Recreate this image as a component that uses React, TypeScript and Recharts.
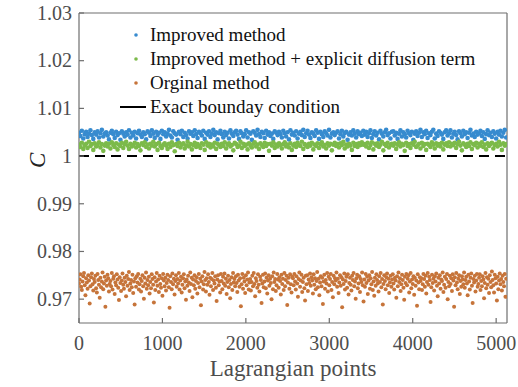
import { ScatterChart, Scatter, XAxis, YAxis, ReferenceLine, Legend } from 'recharts';

// Concentration C at each Lagrangian point (sampled along the boundary)
const improvedC = [
  1.0049, 1.0042, 1.0053, 1.0037, 1.0046, 1.0051, 1.004, 1.0047, 1.0054, 1.0044, 1.0036, 1.005, 1.0045, 1.0052, 1.0039, 1.0048, 1.0055, 1.0041, 1.0047, 1.005,
  1.0043, 1.0035, 1.0049, 1.0053, 1.0046, 1.0038, 1.0051, 1.0044, 1.0048, 1.0034, 1.0052, 1.0047, 1.0041, 1.005, 1.0045, 1.0054, 1.0039, 1.0049, 1.0043, 1.0051,
  1.0037, 1.0048, 1.0053, 1.0045, 1.004, 1.005, 1.0046, 1.0035, 1.0052, 1.0049, 1.0042, 1.0054, 1.0047, 1.0038, 1.0051, 1.0044, 1.0049, 1.0036, 1.0053, 1.0046,
  1.005, 1.0041, 1.0047, 1.0055, 1.0043, 1.0039, 1.0052, 1.0048, 1.0045, 1.0034, 1.0051, 1.0046, 1.0053, 1.004, 1.0049, 1.0044, 1.0037, 1.0052, 1.0047, 1.005,
  1.0042, 1.0054, 1.0046, 1.0038, 1.0051, 1.0048, 1.0043, 1.0053, 1.0036, 1.0049, 1.0045, 1.0052, 1.004, 1.0047, 1.0055, 1.0044, 1.005, 1.0035, 1.0048, 1.0053,
  1.0046, 1.0039, 1.0051, 1.0044, 1.0049, 1.0037, 1.0054, 1.0047, 1.0042, 1.005, 1.0053, 1.0045, 1.0036, 1.0052, 1.0048, 1.0041, 1.0046, 1.0054, 1.0039, 1.005,
  1.0047, 1.0034, 1.0052, 1.0049, 1.0043, 1.0055, 1.0046, 1.004, 1.0051, 1.0048, 1.0038, 1.0053, 1.0045, 1.005, 1.0042, 1.0047, 1.0036, 1.0052, 1.0049, 1.0044,
  1.0051, 1.0046, 1.0039, 1.0053, 1.0048, 1.0041, 1.005, 1.0035, 1.0054, 1.0045, 1.0049, 1.0043, 1.0052, 1.0037, 1.0047, 1.0051, 1.0044, 1.0055, 1.004, 1.0048,
  1.0053, 1.0045, 1.0038, 1.005, 1.0047, 1.0042, 1.0054, 1.0049, 1.0036, 1.0051, 1.0046, 1.004, 1.0052, 1.0048, 1.0043, 1.0055, 1.0039, 1.0047, 1.005, 1.0044,
  1.0049, 1.0052, 1.0037, 1.0046, 1.0053, 1.0041, 1.0048, 1.0051, 1.0034, 1.0045, 1.005, 1.0043, 1.0054, 1.0047, 1.0039, 1.0052, 1.0046, 1.0049, 1.0042, 1.0053,
  1.0045, 1.0051, 1.004, 1.0048, 1.0054, 1.0038, 1.0046, 1.0052, 1.0043, 1.0049, 1.0035, 1.0053, 1.0047, 1.0041, 1.005, 1.0055, 1.0044, 1.0048, 1.0037, 1.0051,
  1.0052, 1.0043, 1.0049, 1.0036, 1.0047, 1.0054, 1.0041, 1.005, 1.0046, 1.0039, 1.0053, 1.0048, 1.0044, 1.0051, 1.0034, 1.0047, 1.0052, 1.0042, 1.0049, 1.0055,
  1.004, 1.005, 1.0046, 1.0053, 1.0038, 1.0048, 1.0044, 1.0051, 1.0055, 1.0037, 1.0047, 1.0042, 1.0052, 1.0049, 1.0045, 1.0036, 1.005, 1.0054, 1.0043, 1.0048,
  1.0054, 1.0039, 1.0047, 1.0051, 1.0044, 1.0035, 1.0052, 1.0048, 1.0041, 1.0053, 1.0046, 1.005, 1.0038, 1.0049, 1.0055, 1.0043, 1.0047, 1.004, 1.0051, 1.0045,
  1.0048, 1.0053, 1.0042, 1.005, 1.0036, 1.0046, 1.0054, 1.0044, 1.0049, 1.004, 1.0052, 1.0047, 1.0037, 1.0051, 1.0045, 1.0053, 1.0041, 1.0049, 1.0055, 1.0039,
];

const diffusionC = [
  1.0024, 1.0019, 1.0028, 1.0015, 1.0022, 1.0026, 1.0017, 1.003, 1.0021, 1.0025, 1.0013, 1.0027, 1.002, 1.0023, 1.0029, 1.0018, 1.0025, 1.0011, 1.0022, 1.0027,
  1.002, 1.0026, 1.0016, 1.0029, 1.0023, 1.0019, 1.0027, 1.0014, 1.0024, 1.0021, 1.0028, 1.0017, 1.0025, 1.003, 1.0022, 1.0015, 1.0026, 1.002, 1.0023, 1.0028,
  1.0018, 1.0025, 1.0021, 1.0012, 1.0027, 1.0023, 1.0029, 1.0019, 1.0024, 1.0016, 1.0026, 1.0022, 1.003, 1.002, 1.0025, 1.0013, 1.0028, 1.0021, 1.0017, 1.0024,
  1.0027, 1.0022, 1.0015, 1.0026, 1.0019, 1.0029, 1.0023, 1.001, 1.0025, 1.0021, 1.0028, 1.0018, 1.0024, 1.0027, 1.0016, 1.0022, 1.003, 1.002, 1.0025, 1.0014,
  1.0023, 1.0028, 1.0019, 1.0025, 1.0021, 1.0017, 1.0027, 1.0024, 1.0013, 1.0029, 1.0022, 1.0026, 1.0018, 1.0024, 1.002, 1.0028, 1.0015, 1.0026, 1.0023, 1.0019,
  1.0026, 1.0021, 1.0029, 1.0016, 1.0024, 1.0027, 1.002, 1.0023, 1.0012, 1.0028, 1.0025, 1.0019, 1.0022, 1.003, 1.0017, 1.0026, 1.0021, 1.0024, 1.0014, 1.0027,
  1.0022, 1.0018, 1.0026, 1.0029, 1.002, 1.0024, 1.0015, 1.0027, 1.0023, 1.0019, 1.0028, 1.0021, 1.0025, 1.0011, 1.0026, 1.0022, 1.0029, 1.0017, 1.0024, 1.002,
  1.0027, 1.0023, 1.0016, 1.0025, 1.0029, 1.002, 1.0024, 1.0018, 1.0027, 1.0013, 1.0022, 1.0026, 1.0019, 1.0028, 1.0023, 1.0021, 1.003, 1.0015, 1.0025, 1.0022,
  1.0019, 1.0026, 1.0022, 1.0028, 1.0014, 1.0024, 1.0021, 1.0027, 1.0017, 1.0025, 1.0029, 1.002, 1.0023, 1.0016, 1.0027, 1.0022, 1.0026, 1.0012, 1.0024, 1.0028,
  1.0021, 1.0025, 1.0018, 1.0027, 1.0023, 1.003, 1.0016, 1.0024, 1.002, 1.0026, 1.0022, 1.0013, 1.0028, 1.0021, 1.0025, 1.0019, 1.0027, 1.0023, 1.0029, 1.0024,
  1.0025, 1.002, 1.0028, 1.0017, 1.0023, 1.0029, 1.0014, 1.0026, 1.0022, 1.0027, 1.0019, 1.0024, 1.003, 1.0012, 1.0025, 1.0021, 1.0028, 1.0018, 1.0023, 1.0026,
  1.0022, 1.0027, 1.0015, 1.0024, 1.0029, 1.002, 1.0026, 1.0023, 1.0011, 1.0028, 1.0021, 1.0025, 1.0017, 1.0027, 1.0024, 1.003, 1.0019, 1.0022, 1.0026, 1.0016,
  1.0028, 1.0021, 1.0025, 1.0013, 1.0026, 1.0023, 1.0019, 1.0029, 1.0024, 1.0016, 1.0027, 1.0022, 1.0025, 1.002, 1.0028, 1.0014, 1.0024, 1.0027, 1.0021, 1.0029,
  1.002, 1.0026, 1.0023, 1.0028, 1.0017, 1.0025, 1.003, 1.0022, 1.0012, 1.0027, 1.0024, 1.0019, 1.0026, 1.0021, 1.0029, 1.0015, 1.0025, 1.0023, 1.0028, 1.0018,
  1.0026, 1.0022, 1.0029, 1.0019, 1.0024, 1.0014, 1.0027, 1.0021, 1.0025, 1.0028, 1.0016, 1.0023, 1.0026, 1.002, 1.003, 1.0024, 1.0013, 1.0027, 1.0022, 1.0025,
];

const originalC = [
  0.9733, 0.9741, 0.9752, 0.9726, 0.9719, 0.9737, 0.9748, 0.9755, 0.9729, 0.9708, 0.9744, 0.9735, 0.9722, 0.975, 0.9739, 0.9691, 0.9727, 0.9746, 0.9754, 0.9731,
  0.9718, 0.9742, 0.9736, 0.9749, 0.9723, 0.9714, 0.9753, 0.974, 0.973, 0.9703, 0.9745, 0.9725, 0.9737, 0.9756, 0.9721, 0.9733, 0.9747, 0.9684, 0.9739, 0.9728,
  0.9751, 0.9744, 0.9716, 0.9732, 0.9738, 0.9727, 0.9755, 0.972, 0.9743, 0.9748, 0.9711, 0.9735, 0.9729, 0.9752, 0.9741, 0.9724, 0.9698, 0.9746, 0.9734, 0.9717,
  0.9739, 0.9754, 0.973, 0.9722, 0.9745, 0.9736, 0.9706, 0.9749, 0.9728, 0.9742, 0.9757, 0.9719, 0.9733, 0.974, 0.9725, 0.9751, 0.9713, 0.9737, 0.9689, 0.9744,
  0.9726, 0.9748, 0.9735, 0.9753, 0.972, 0.9731, 0.9743, 0.9716, 0.9738, 0.975, 0.9727, 0.9701, 0.9745, 0.9733, 0.9756, 0.9722, 0.974, 0.9729, 0.9747, 0.9712,
  0.9736, 0.9723, 0.9752, 0.9742, 0.973, 0.9693, 0.9746, 0.9719, 0.9737, 0.9755, 0.9728, 0.9741, 0.9715, 0.9749, 0.9732, 0.9724, 0.9744, 0.9707, 0.9753, 0.9739,
  0.9727, 0.9745, 0.9718, 0.9734, 0.9751, 0.974, 0.9725, 0.9682, 0.9748, 0.9736, 0.9721, 0.9754, 0.9731, 0.9743, 0.971, 0.9738, 0.975, 0.9726, 0.9742, 0.9733,
  0.9755, 0.972, 0.9739, 0.9747, 0.9714, 0.973, 0.9744, 0.9752, 0.9723, 0.9737, 0.9699, 0.9741, 0.9728, 0.9749, 0.9735, 0.9717, 0.9756, 0.9732, 0.9745, 0.9704,
  0.9741, 0.9729, 0.975, 0.9722, 0.9738, 0.9746, 0.9712, 0.9734, 0.9753, 0.9725, 0.9743, 0.9687, 0.9737, 0.9748, 0.972, 0.9731, 0.9757, 0.974, 0.9716, 0.9744,
  0.973, 0.9752, 0.9736, 0.9709, 0.9745, 0.9727, 0.9742, 0.9755, 0.9719, 0.9739, 0.9733, 0.9748, 0.9724, 0.9696, 0.9741, 0.975, 0.9729, 0.9737, 0.9714, 0.9753,
  0.9738, 0.9721, 0.9747, 0.9733, 0.9754, 0.9728, 0.9743, 0.9711, 0.9736, 0.9749, 0.9725, 0.974, 0.9702, 0.9732, 0.9746, 0.9719, 0.9755, 0.9735, 0.9742, 0.9727,
  0.9748, 0.9734, 0.9715, 0.9751, 0.9739, 0.9726, 0.9744, 0.9685, 0.9731, 0.9753, 0.9722, 0.9745, 0.9737, 0.9713, 0.975, 0.9729, 0.9741, 0.9756, 0.972, 0.9735,
  0.9742, 0.9718, 0.9736, 0.9749, 0.9727, 0.9755, 0.9732, 0.9706, 0.9744, 0.9738, 0.9724, 0.9752, 0.973, 0.9716, 0.9747, 0.974, 0.9692, 0.9733, 0.9751, 0.9725,
  0.9737, 0.9754, 0.9723, 0.9745, 0.9712, 0.9739, 0.975, 0.9728, 0.9743, 0.9734, 0.97, 0.9748, 0.9721, 0.9756, 0.9736, 0.9742, 0.9717, 0.9729, 0.9753, 0.9741,
  0.9724, 0.9746, 0.9738, 0.971, 0.9751, 0.9732, 0.9743, 0.9719, 0.9755, 0.9727, 0.974, 0.9749, 0.9688, 0.9735, 0.9745, 0.9722, 0.9752, 0.9731, 0.9714, 0.9747,
  0.9744, 0.9729, 0.9753, 0.9737, 0.972, 0.9748, 0.9733, 0.9705, 0.9742, 0.9756, 0.9726, 0.9739, 0.9751, 0.9715, 0.9736, 0.9745, 0.9723, 0.9697, 0.9749, 0.9731,
  0.975, 0.9717, 0.9741, 0.9734, 0.9754, 0.9728, 0.9746, 0.9739, 0.9712, 0.9752, 0.973, 0.9744, 0.9721, 0.9738, 0.9757, 0.9725, 0.9743, 0.9708, 0.9735, 0.9748,
  0.9727, 0.9745, 0.969, 0.9737, 0.9751, 0.9722, 0.974, 0.9733, 0.9755, 0.9716, 0.9747, 0.9729, 0.9742, 0.9753, 0.9719, 0.9736, 0.9704, 0.9749, 0.9731, 0.9744,
  0.9739, 0.9756, 0.9726, 0.9743, 0.9713, 0.9735, 0.975, 0.9728, 0.9746, 0.9683, 0.9741, 0.9732, 0.9754, 0.972, 0.9738, 0.9747, 0.9724, 0.9752, 0.971, 0.9734,
  0.9745, 0.973, 0.9718, 0.9749, 0.974, 0.9755, 0.9727, 0.9737, 0.9701, 0.9744, 0.9751, 0.9723, 0.9733, 0.9748, 0.9715, 0.9742, 0.9736, 0.9756, 0.9729, 0.9695,
  0.9741, 0.9726, 0.9753, 0.9734, 0.9747, 0.9711, 0.9739, 0.975, 0.9722, 0.9744, 0.9731, 0.9757, 0.9719, 0.9737, 0.9707, 0.9745, 0.9728, 0.9752, 0.974, 0.9733,
  0.9716, 0.9748, 0.9736, 0.9755, 0.9725, 0.9742, 0.9689, 0.9732, 0.975, 0.9738, 0.9721, 0.9746, 0.9754, 0.9729, 0.9743, 0.9713, 0.9735, 0.9749, 0.9726, 0.9741,
  0.9752, 0.9733, 0.972, 0.9745, 0.9739, 0.9703, 0.9748, 0.9727, 0.9756, 0.9736, 0.9744, 0.9717, 0.9731, 0.9751, 0.974, 0.9724, 0.9699, 0.9747, 0.9734, 0.9753,
  0.9729, 0.9743, 0.975, 0.9714, 0.9737, 0.9755, 0.9723, 0.9741, 0.9732, 0.9748, 0.9709, 0.9745, 0.9728, 0.9739, 0.9686, 0.9752, 0.9735, 0.9721, 0.9746, 0.9738,
  0.9744, 0.9719, 0.9731, 0.9753, 0.9742, 0.9726, 0.9749, 0.9712, 0.9736, 0.9755, 0.973, 0.9747, 0.974, 0.9694, 0.9725, 0.9751, 0.9734, 0.9743, 0.9718, 0.9748,
  0.9737, 0.9754, 0.9728, 0.9706, 0.9745, 0.9733, 0.975, 0.9722, 0.9741, 0.9738, 0.9756, 0.9715, 0.973, 0.9747, 0.9724, 0.9742, 0.9753, 0.97, 0.9736, 0.9727,
  0.9749, 0.9732, 0.9744, 0.9717, 0.9752, 0.9739, 0.9684, 0.9746, 0.9729, 0.9755, 0.9735, 0.9721, 0.9743, 0.975, 0.9711, 0.9738, 0.9726, 0.9748, 0.9741, 0.9731,
  0.9756, 0.9724, 0.974, 0.9747, 0.9733, 0.9708, 0.9751, 0.9737, 0.972, 0.9745, 0.9754, 0.9728, 0.9692, 0.9742, 0.9735, 0.9749, 0.9716, 0.9739, 0.9753, 0.9726,
  0.9732, 0.9745, 0.9752, 0.9719, 0.9738, 0.9727, 0.9748, 0.9741, 0.9702, 0.9734, 0.9755, 0.9723, 0.9746, 0.973, 0.9743, 0.9713, 0.975, 0.9736, 0.9725, 0.9758,
  0.974, 0.9729, 0.9714, 0.9751, 0.9744, 0.9733, 0.9697, 0.9747, 0.9721, 0.9739, 0.9754, 0.9731, 0.9742, 0.9718, 0.9749, 0.9736, 0.9727, 0.9753, 0.9705, 0.9743,
];

const xTicks = [0, 1000, 2000, 3000, 4000, 5000];
const yTicks = [0.97, 0.98, 0.99, 1, 1.01, 1.02, 1.03];
const legendLabels = [
  'Improved method',
  'Improved method + explicit diffusion term',
  'Orginal method',
  'Exact bounday condition',
];

const LAST_POINT = 5120;
const EXACT_C = 1;

const BLUE = '#378bcf';
const GREEN = '#7cba4a';
const ORANGE = '#c6743a';
const AXIS = '#6e6e6e';
const TEXT = '#4d4d4d';
const FONT = '"Liberation Serif", "Times New Roman", serif';

// spread the sampled values evenly over the point index range
const toPoints = (values: number[]) =>
  values.map((c, i) => ({ x: (i * LAST_POINT) / (values.length - 1), y: c }));

const dot = (color: string, r: number) => (props: any) =>
  <circle cx={props.cx} cy={props.cy} r={r} fill={color} />;

const legendColors = [BLUE, GREEN, ORANGE, null];

function ChartLegend() {
  return (
    <div style={{ fontFamily: FONT, fontSize: 19, color: '#111' }}>
      {legendLabels.map((label, i) => (
        <div key={label} style={{ display: 'flex', alignItems: 'center', height: 24 }}>
          <svg width={38} height={24}>
            {legendColors[i] ? (
              <circle cx={24} cy={12} r={1.8} fill={legendColors[i] as string} />
            ) : (
              <line x1={8} x2={34} y1={12} y2={12} stroke="#000" strokeWidth={2} />
            )}
          </svg>
          <span style={{ whiteSpace: 'nowrap' }}>{label}</span>
        </div>
      ))}
    </div>
  );
}

const fmtC = (v: number) => String(Number(v.toFixed(2)));
const tickText = { fill: TEXT, fontSize: 20, fontFamily: FONT };

const XTick = (props: any) => (
  <text x={props.x} y={props.y} dy="0.71em" textAnchor="middle" style={tickText}>
    {props.payload.value}
  </text>
);

const YTick = (props: any) => (
  <text x={props.x} y={props.y} dy="0.34em" textAnchor="end" style={tickText}>
    {fmtC(props.payload.value)}
  </text>
);

export default function App() {
  return (
    <div style={{ position: 'absolute', left: 0, top: 0, background: '#fff', fontFamily: FONT }}>
      <ScatterChart width={518} height={387} margin={{ top: 12, right: 10, left: 0, bottom: 0 }}>
        <XAxis
          type="number"
          dataKey="x"
          domain={[0, 5130]}
          ticks={xTicks}
          allowDataOverflow
          height={64}
          stroke={AXIS}
          strokeWidth={1.2}
          tickSize={-5}
          tickMargin={18}
          tick={XTick}
          label={{ value: 'Lagrangian points', position: 'insideBottom', offset: 11, style: { fill: TEXT, fontSize: 23, fontFamily: FONT } }}
        />
        <XAxis
          xAxisId="top"
          orientation="top"
          type="number"
          dataKey="x"
          domain={[0, 5130]}
          ticks={xTicks}
          allowDataOverflow
          height={1}
          stroke={AXIS}
          strokeWidth={1.2}
          tickSize={-5}
          tick={false}
        />
        <YAxis
          type="number"
          dataKey="y"
          domain={[0.965, 1.03]}
          ticks={yTicks}
          allowDataOverflow
          width={79}
          stroke={AXIS}
          strokeWidth={1.2}
          tickSize={-5}
          tickMargin={12}
          tick={YTick}
          label={{ value: 'C', angle: -90, position: 'insideLeft', offset: 37, style: { fill: '#222', fontSize: 23, fontFamily: FONT, fontStyle: 'italic' } }}
        />
        <YAxis
          yAxisId="right"
          orientation="right"
          type="number"
          dataKey="y"
          domain={[0.965, 1.03]}
          ticks={yTicks}
          allowDataOverflow
          width={1}
          stroke={AXIS}
          strokeWidth={1.2}
          tickSize={-5}
          tick={false}
        />
        <Scatter data={toPoints(improvedC)} shape={dot(BLUE, 2.3)} isAnimationActive={false} />
        <Scatter data={toPoints(diffusionC)} shape={dot(GREEN, 2.3)} isAnimationActive={false} />
        <Scatter data={toPoints(originalC)} shape={dot(ORANGE, 2)} isAnimationActive={false} />
        <ReferenceLine y={EXACT_C} stroke="#000" strokeWidth={2} strokeDasharray="10 6" />
        <Legend
          content={() => <ChartLegend />}
          layout="vertical"
          align="center"
          verticalAlign="middle"
          wrapperStyle={{ left: 112, top: 23, width: 'auto', height: 'auto' }}
        />
      </ScatterChart>
    </div>
  );
}
